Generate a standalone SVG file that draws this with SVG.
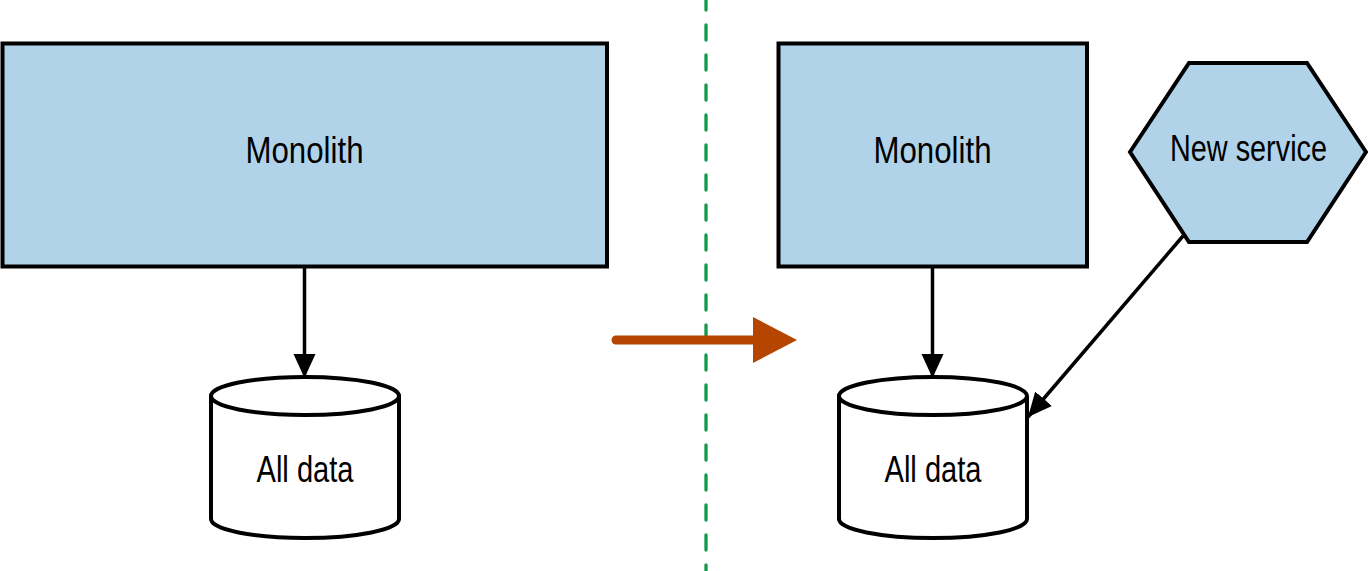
<svg xmlns="http://www.w3.org/2000/svg" width="1368" height="571" viewBox="0 0 1368 571">
<style>
.box{fill:#b1d3e9;stroke:#000;stroke-width:4}
.cyl{fill:#fff;stroke:#000;stroke-width:4}
.lbl{font-family:"Liberation Sans",sans-serif;font-size:36px;fill:#000;text-anchor:middle}
.con{stroke:#000;stroke-width:3.5;fill:none}
</style>
<defs>
<marker id="ah" markerUnits="userSpaceOnUse" markerWidth="26" markerHeight="26" viewBox="0 0 26 26" refX="24" refY="13" orient="auto">
<path d="M0,2 L24,13 L0,24 Z" fill="#000"/>
</marker>
</defs>
<rect width="1368" height="571" fill="#fff"/>
<line x1="706" y1="0" x2="706" y2="571" stroke="#13994a" stroke-width="3.3" stroke-dasharray="15 15" stroke-dashoffset="5" stroke-linecap="round"/>
<g id="transition">
<line x1="616" y1="340" x2="760" y2="340" stroke="#b54500" stroke-width="9" stroke-linecap="round"/>
<path d="M753,317 L797,340 L753,363 Z" fill="#b54500"/>
</g>
<g id="monolith-left">
<rect class="box" x="2.5" y="43.5" width="604.5" height="223"/>
<text class="lbl" x="304.5" y="163" textLength="118" lengthAdjust="spacingAndGlyphs">Monolith</text>
</g>
<g id="data-left">
<path class="cyl" d="M211,396 L211,519 A94,19 0 0 0 399,519 L399,396"/>
<ellipse class="cyl" cx="305" cy="396" rx="94" ry="19"/>
<text class="lbl" x="305" y="482" textLength="97" lengthAdjust="spacingAndGlyphs">All data</text>
</g>
<g id="monolith-right">
<rect class="box" x="778.5" y="43.5" width="308.5" height="223"/>
<text class="lbl" x="932.5" y="163" textLength="118" lengthAdjust="spacingAndGlyphs">Monolith</text>
</g>
<g id="data-right">
<path class="cyl" d="M839,396 L839,519 A94,19 0 0 0 1027,519 L1027,396"/>
<ellipse class="cyl" cx="933" cy="396" rx="94" ry="19"/>
<text class="lbl" x="933" y="482" textLength="97" lengthAdjust="spacingAndGlyphs">All data</text>
</g>
<g id="new-service">
<polygon class="box" points="1130,152 1189,63 1307,63 1366,152 1307,242 1189,242"/>
<text class="lbl" x="1248.5" y="161" textLength="157" lengthAdjust="spacingAndGlyphs">New service</text>
</g>
<g id="connectors">
<line class="con" x1="304.5" y1="267" x2="304.5" y2="378" marker-end="url(#ah)"/>
<line class="con" x1="932.5" y1="267" x2="932.5" y2="378" marker-end="url(#ah)"/>
<line class="con" x1="1183" y1="236" x2="1028" y2="417" marker-end="url(#ah)"/>
</g>
</svg>
